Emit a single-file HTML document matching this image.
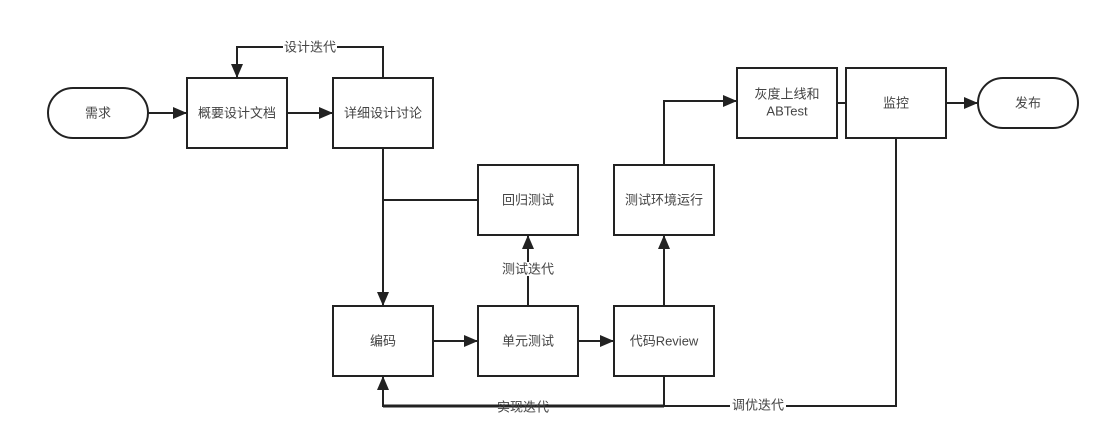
<!DOCTYPE html>
<html><head><meta charset="utf-8"><style>
body{margin:0;background:#fff}
svg text{font-family:"Liberation Sans","Noto Sans CJK SC",sans-serif;font-size:13px;fill:#444;text-anchor:middle;dominant-baseline:central}
</style></head><body>
<svg width="1110" height="439" viewBox="0 0 1110 439">
<defs><marker id="a" markerWidth="14" markerHeight="12" refX="13" refY="6" orient="auto" markerUnits="userSpaceOnUse"><path d="M0,0 L14,6 L0,12 Z" fill="#222"/></marker></defs>
<g fill="none" stroke="#222" stroke-width="2">
<rect x="48" y="88" width="100" height="50" rx="25"/>
<rect x="187" y="78" width="100" height="70"/>
<rect x="333" y="78" width="100" height="70"/>
<rect x="478" y="165" width="100" height="70"/>
<rect x="614" y="165" width="100" height="70"/>
<rect x="737" y="68" width="100" height="70"/>
<rect x="846" y="68" width="100" height="70"/>
<rect x="978" y="78" width="100" height="50" rx="25"/>
<rect x="333" y="306" width="100" height="70"/>
<rect x="478" y="306" width="100" height="70"/>
<rect x="614" y="306" width="100" height="70"/>
<path d="M148 113H186" marker-end="url(#a)"/>
<path d="M287 113H332" marker-end="url(#a)"/>
<path d="M383 78V47H237V77" marker-end="url(#a)"/>
<path d="M383 148V305" marker-end="url(#a)"/>
<path d="M478 200H383"/>
<path d="M433 341H477" marker-end="url(#a)"/>
<path d="M578 341H613" marker-end="url(#a)"/>
<path d="M528 306V236" marker-end="url(#a)"/>
<path d="M664 306V236" marker-end="url(#a)"/>
<path d="M664 165V101H736" marker-end="url(#a)"/>
<path d="M837 103H846"/>
<path d="M946 103H977" marker-end="url(#a)"/>
<path d="M896 138V406H383V377" marker-end="url(#a)"/>
<path d="M664 376V406"/>
<path d="M383 406H664" stroke-width="3"/>
</g>
<g>
<rect x="283" y="40" width="54" height="14" fill="#fff"/>
<rect x="500" y="262" width="56" height="14" fill="#fff"/>
<rect x="730" y="398" width="56" height="14" fill="#fff"/>
<text x="98" y="113">需求</text>
<text x="237" y="113">概要设计文档</text>
<text x="383" y="113">详细设计讨论</text>
<text x="528" y="200">回归测试</text>
<text x="664" y="200">测试环境运行</text>
<text x="787" y="94">灰度上线和</text>
<text x="787" y="111">ABTest</text>
<text x="896" y="103">监控</text>
<text x="1028" y="103">发布</text>
<text x="383" y="341">编码</text>
<text x="528" y="341">单元测试</text>
<text x="664" y="341">代码Review</text>
<text x="310" y="47">设计迭代</text>
<text x="528" y="269">测试迭代</text>
<text x="523" y="407">实现迭代</text>
<text x="758" y="405">调优迭代</text>
</g>
</svg>
</body></html>
